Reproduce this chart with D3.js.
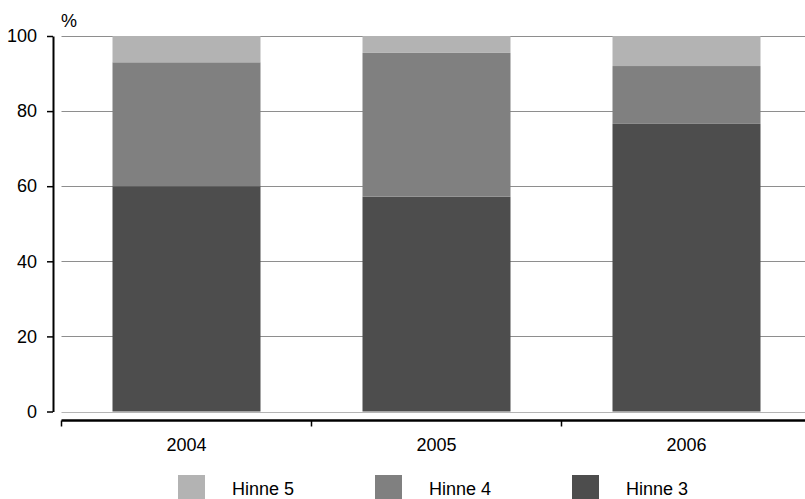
<!DOCTYPE html>
<html>
<head>
<meta charset="utf-8">
<script src="https://cdn.jsdelivr.net/npm/d3@7"></script>
<style>
  html, body { margin: 0; padding: 0; background: #fff; }
  svg { display: block; font-family: "Liberation Sans", Arial, sans-serif; }
</style>
</head>
<body>
<svg id="chart" width="805" height="499"></svg>
<script>
// Share of pupils by grade (Hinne 3/4/5), per year, in percent
const years = ["2004", "2005", "2006"];
const hinne3 = [60, 57.2, 76.6];
const hinne4 = [33, 38.3, 15.4];
const hinne5 = [7, 4.5, 8];
const yTicks = [0, 20, 40, 60, 80, 100];

const seriesNames = ["Hinne 3", "Hinne 4", "Hinne 5"];
const seriesColors = { "Hinne 3": "#4d4d4d", "Hinne 4": "#808080", "Hinne 5": "#b3b3b3" };
const legendOrder = ["Hinne 5", "Hinne 4", "Hinne 3"];

const rows = years.map((y, i) => ({
  year: y, "Hinne 3": hinne3[i], "Hinne 4": hinne4[i], "Hinne 5": hinne5[i]
}));
const stacked = d3.stack().keys(seriesNames)(rows);

const svg = d3.select("#chart");
const plotLeft = 61.5, plotRight = 811.5;
const fontSize = 18;

const x = d3.scaleBand().domain(years).range([plotLeft, plotRight])
  .paddingInner(0.408).paddingOuter(0.204);
const xCat = d3.scaleBand().domain(years).range([plotLeft, plotRight]).padding(0);
const y = d3.scaleLinear().domain([0, 100]).range([411.5, 36]);

// horizontal gridlines
svg.append("g").selectAll("line").data(yTicks).join("line")
  .attr("x1", plotLeft).attr("x2", plotRight)
  .attr("y1", d => Math.round(y(d)) + 0.5).attr("y2", d => Math.round(y(d)) + 0.5)
  .attr("stroke", d => d === 0 ? "#b5b5b5" : "#8e8e8e").attr("stroke-width", 1);

// stacked bars
svg.append("g").selectAll("g").data(stacked).join("g")
  .attr("fill", s => seriesColors[s.key])
  .selectAll("rect").data(s => s).join("rect")
  .attr("x", d => x(d.data.year))
  .attr("width", x.bandwidth())
  .attr("y", d => y(d[1]))
  .attr("height", d => y(d[0]) - y(d[1]));

// y axis
const yAxis = svg.append("g").attr("transform", "translate(53,0)")
  .call(d3.axisLeft(y).tickValues(yTicks).tickSize(6).tickPadding(10).tickSizeOuter(0));
yAxis.select(".domain").attr("stroke", "#000").attr("stroke-width", 2);
yAxis.selectAll(".tick line").attr("stroke", "#000").attr("stroke-width", 1.5);
yAxis.selectAll(".tick text").attr("font-size", fontSize).attr("fill", "#000")
  .attr("font-family", "Liberation Sans, Arial, sans-serif");

svg.append("text").attr("x", 61).attr("y", 27).attr("font-size", fontSize).text("%");

// x axis: baseline with ticks at category boundaries
const xAxisY = 420.5;
svg.append("line").attr("x1", plotLeft).attr("x2", plotRight)
  .attr("y1", xAxisY).attr("y2", xAxisY).attr("stroke", "#000").attr("stroke-width", 2.5);
const boundaries = years.map(d => xCat(d));
svg.append("g").selectAll("line").data(boundaries).join("line")
  .attr("x1", d => d).attr("x2", d => d)
  .attr("y1", xAxisY).attr("y2", xAxisY + 6)
  .attr("stroke", "#000").attr("stroke-width", 1.5);
svg.append("g").selectAll("text").data(years).join("text")
  .attr("x", d => xCat(d) + xCat.bandwidth() / 2)
  .attr("y", 451).attr("text-anchor", "middle").attr("font-size", fontSize)
  .text(d => d);

// legend
const legend = svg.append("g").selectAll("g").data(legendOrder).join("g")
  .attr("transform", (d, i) => `translate(${178 + i * 197},0)`);
legend.append("rect").attr("x", 0).attr("y", 475).attr("width", 27).attr("height", 24)
  .attr("fill", d => seriesColors[d]);
legend.append("text").attr("x", 54).attr("y", 495).attr("font-size", fontSize).text(d => d);
</script>
</body>
</html>
